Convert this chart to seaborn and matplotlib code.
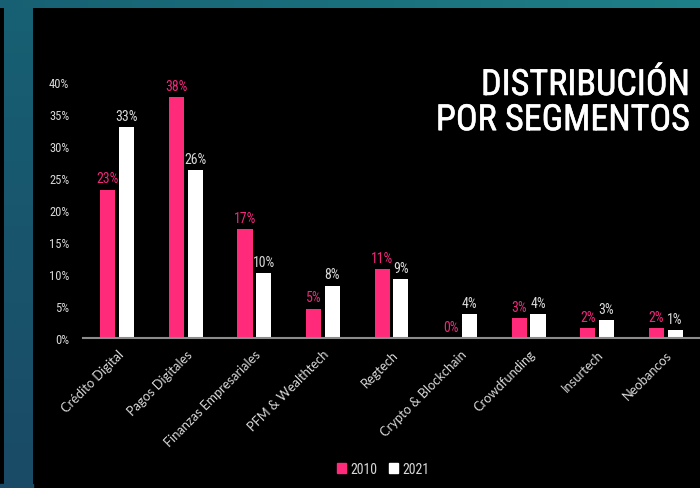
import matplotlib
matplotlib.use("Agg")
import matplotlib.pyplot as plt
import matplotlib.patheffects as pe
from matplotlib.patches import Rectangle
from matplotlib.ticker import PercentFormatter, MultipleLocator
from matplotlib import font_manager
import seaborn as sns
import numpy as np
import pandas as pd

segmentos = ["Crédito Digital", "Pagos Digitales", "Finanzas Empresariales",
             "PFM & Wealthtech", "Regtech", "Crypto & Blockchain",
             "Crowdfunding", "Insurtech", "Neobancos"]
valores_2010 = [23.2, 37.6, 17.0, 4.6, 10.8, 0.0, 3.1, 1.5, 1.5]
valores_2021 = [33.0, 26.2, 10.2, 8.2, 9.2, 3.8, 3.8, 2.8, 1.2]
anios = ["2010", "2021"]

PINK = "#ff2a7a"
PINK_TXT = "#f0287a"
GREY_TXT = "#d9d9d9"

sns.set_theme(style="dark")
installed = {f.name for f in font_manager.fontManager.ttflist}
narrow = [f for f in ["Roboto Condensed", "Liberation Sans Narrow"] if f in installed]
plt.rcParams["font.family"] = narrow + ["DejaVu Sans"]
LABEL_FONT = [f for f in ["Lato", "Open Sans"] if f in installed] + ["DejaVu Sans"]

df = pd.DataFrame({
    "segmento": segmentos * 2,
    "anio": [anios[0]] * len(segmentos) + [anios[1]] * len(segmentos),
    "valor": valores_2010 + valores_2021,
})

fig = plt.figure(figsize=(7, 4.89), dpi=100)
fig.patch.set_facecolor("black")

# background frame (teal strips)
bg = fig.add_axes([0, 0, 1, 1], zorder=-10)
bg.set_axis_off()
top = np.linspace(0, 1, 256)[None, :, None]
c0 = np.array([0x17, 0x60, 0x73]) / 255
c1 = np.array([0x1e, 0x80, 0x88]) / 255
bg.imshow(c0 + (c1 - c0) * top, extent=[0, 700, 9, 0], aspect="auto")
side = np.linspace(0, 1, 256)[:, None, None]
c2 = np.array([0x1a, 0x4a, 0x66]) / 255
bg.imshow(c0 + (c2 - c0) * side, extent=[4, 33, 489, 9], aspect="auto")
bg.add_patch(Rectangle((0, 485), 33, 4, color=c2))
bg.set_xlim(0, 700)
bg.set_ylim(489, 0)

ax = fig.add_axes([83 / 700, 1 - 339 / 489, 617 / 700, 256 / 489])
sns.barplot(data=df, x="segmento", y="valor", hue="anio", hue_order=anios,
            palette={"2010": PINK, "2021": "white"}, width=0.55, gap=0.2,
            saturation=1, linewidth=0, ax=ax, legend=False)
ax.set_facecolor("none")
ax.set_ylim(0, 40)
ax.yaxis.set_major_locator(MultipleLocator(5))
ax.yaxis.set_major_formatter(PercentFormatter(xmax=100, decimals=0))
ax.set_xlabel("")
ax.set_ylabel("")
ax.grid(False)
for s in ["top", "right", "left"]:
    ax.spines[s].set_visible(False)
ax.spines["bottom"].set_color("#8c8c8c")
ax.spines["bottom"].set_linewidth(1.5)
ax.tick_params(axis="y", length=0, labelsize=9, labelcolor=GREY_TXT, pad=10)
ax.tick_params(axis="x", length=0, labelcolor=GREY_TXT, pad=7)
plt.setp(ax.get_xticklabels(), rotation=45, ha="right", rotation_mode="anchor",
         family=LABEL_FONT, fontsize=9.3)

for cont, vals, col in zip(ax.containers, [valores_2010, valores_2021], [PINK_TXT, GREY_TXT]):
    ax.bar_label(cont, labels=[f"{v:.0f}%" for v in vals], padding=3,
                 color=col, fontsize=10)

fig.text(690 / 700, 1 - 68 / 489, "DISTRIBUCIÓN\nPOR SEGMENTOS", ha="right", va="top",
         color="white", fontsize=26, linespacing=0.97,
         path_effects=[pe.withStroke(linewidth=0.4, foreground="white")])

handles = [Rectangle((0, 0), 1, 1, color=PINK), Rectangle((0, 0), 1, 1, color="white")]
fig.legend(handles, anios, loc="center", bbox_to_anchor=(383 / 700, 1 - 470 / 489),
           ncol=2, frameon=False, fontsize=10, labelcolor=GREY_TXT,
           handlelength=0.7, handleheight=0.7, handletextpad=0.3, columnspacing=0.8)

fig.savefig("out.png", dpi=100, facecolor="black")
